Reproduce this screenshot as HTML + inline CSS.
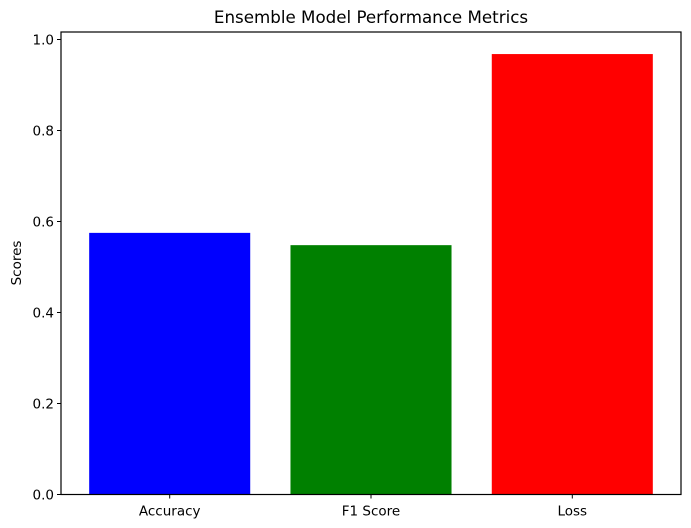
<!DOCTYPE html>
<html><head><meta charset="utf-8"><style>
html,body{margin:0;padding:0;background:#fff;width:691px;height:528px;overflow:hidden}
text{font-family:"DejaVu Sans","Liberation Sans",sans-serif;fill:#000}
</style></head><body>
<svg id="chart" width="691" height="528" xmlns="http://www.w3.org/2000/svg">
<text x="371" y="23" font-size="16.7" text-anchor="middle">Ensemble Model Performance Metrics</text>
<text transform="translate(21,263) rotate(-90)" font-size="13.5" text-anchor="middle">Scores</text>
<g id="bars"></g><g id="ticks"></g>
<rect x="61" y="32" width="620" height="462.5" fill="none" stroke="#000" stroke-width="1.2"/>
</svg>
<script>
const categories = ["Accuracy", "F1 Score", "Loss"];
const values = [0.575, 0.548, 0.968];
const colors = ["#0000ff", "#008000", "#ff0000"];
const yTicks = [0, 0.2, 0.4, 0.6, 0.8, 1.0];
const yTickLabels = ["0.0", "0.2", "0.4", "0.6", "0.8", "1.0"];

const L=61,R=681,B=494.5;
const xmin=-0.54,xmax=2.54;
const x=v=>L+(v-xmin)/(xmax-xmin)*(R-L);
const y=v=>B-v*455;
const NS="http://www.w3.org/2000/svg";
const bars=document.getElementById('bars'), ticks=document.getElementById('ticks');
function mk(t,a,p){const e=document.createElementNS(NS,t);for(const k in a)e.setAttribute(k,a[k]);p.appendChild(e);return e;}
categories.forEach((c,i)=>{
  const r=mk('rect',{x:x(i-0.4),y:y(values[i]),width:x(i+0.4)-x(i-0.4),height:B-y(values[i]),fill:colors[i]},bars);
  
  
  const tk=mk('line',{x1:x(i),x2:x(i),y1:B,y2:B+4,stroke:'#000'},ticks);
  
  
  const t=mk('text',{x:x(i),y:B+21,'font-size':13.5,'text-anchor':'middle'},ticks);
  t.textContent=c;
  
  
});
yTicks.forEach((v,i)=>{
  const tk=mk('line',{x1:L-4,x2:L,y1:y(v),y2:y(v),stroke:'#000'},ticks);
  
  
  const t=mk('text',{x:L-7,y:y(v)+5,'font-size':13.5,'text-anchor':'end'},ticks);
  t.textContent=yTickLabels[i];
  
  
});
</script>
</body></html>
